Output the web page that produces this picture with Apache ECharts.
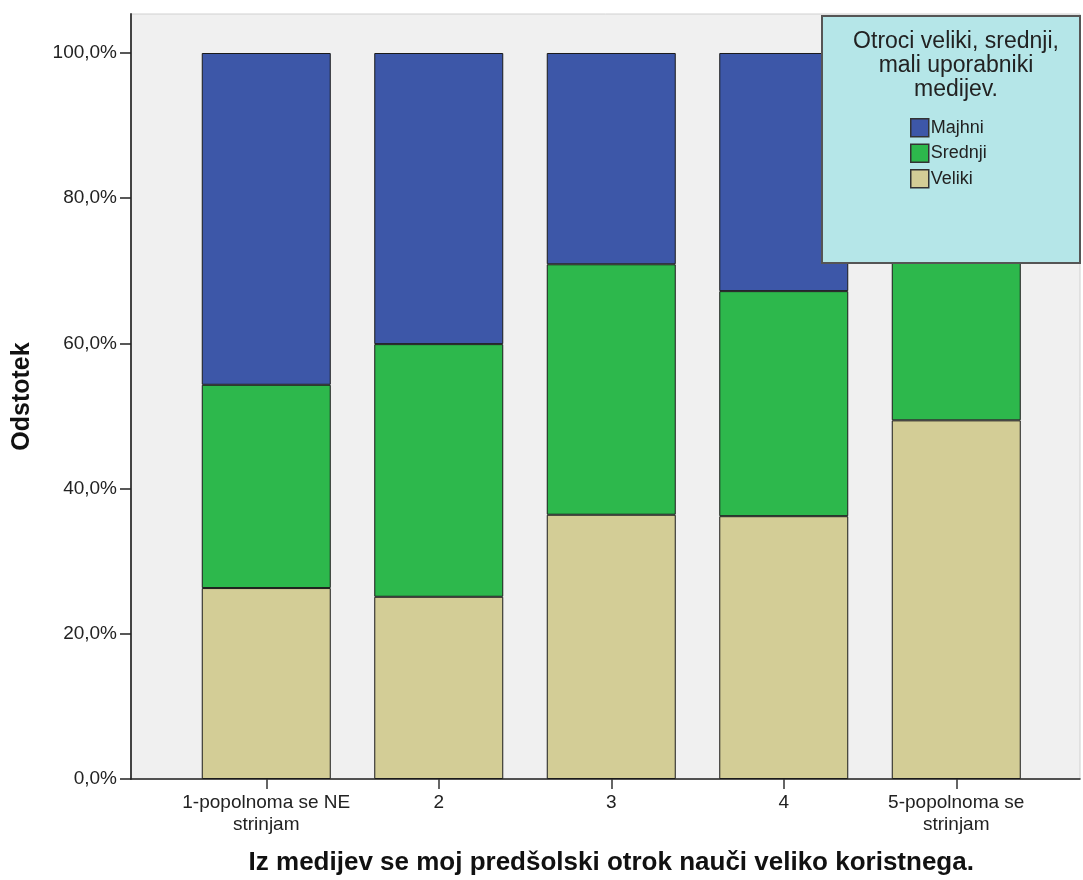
<!DOCTYPE html>
<html>
<head>
<meta charset="utf-8">
<script src="https://cdn.jsdelivr.net/npm/echarts@6/dist/echarts.min.js"></script>
<style>html,body{margin:0;padding:0;background:#fff;}#c{width:1083px;height:880px;}</style>
</head>
<body>
<div id="c"></div>
<script>
const categories = ['1-popolnoma se NE\nstrinjam', '2', '3', '4', '5-popolnoma se\nstrinjam'];
const veliki  = [26.3, 25.1, 36.4, 36.2, 49.4];
const srednji = [28.0, 34.8, 34.5, 31.0, 26.6];
const majhni  = [45.7, 40.1, 29.1, 32.8, 24.0];
const yTicks = [0, 20, 40, 60, 80, 100];
const legendTitle = 'Otroci veliki, srednji,\nmali uporabniki\nmedijev.';

const FONT = "'Liberation Sans', Arial, sans-serif";
const chart = echarts.init(document.getElementById('c'), null, {renderer: 'canvas'});
const fmt = v => v.toFixed(1).replace('.', ',') + '%';
const barStyle = c => ({color: c, borderColor: '#1a1a1a', borderWidth: 1});
const yMin = yTicks[0], yMax = yTicks[yTicks.length - 1];

chart.setOption({
  animation: false,
  textStyle: {fontFamily: FONT},
  grid: [
    {left: 131, right: 3, top: 14, bottom: 101, show: true, backgroundColor: '#f0f0f0', borderColor: '#d0d0d0', borderWidth: 1, outerBoundsMode: 'none', containLabel: false},
    {left: 131, right: 3, top: 53, bottom: 101, outerBoundsMode: 'none', containLabel: false},
    {left: 180, right: 40.5, top: 53, bottom: 101, outerBoundsMode: 'none', containLabel: false}
  ],
  xAxis: [
    {gridIndex: 0, type: 'value', min: 0, max: 1, axisLine: {show: true, lineStyle: {color: '#222', width: 1.5}},
     axisTick: {show: false}, axisLabel: {show: false}, splitLine: {show: false}},
    {gridIndex: 1, type: 'value', min: 0, max: 1, show: false},
    {gridIndex: 2, type: 'category', data: categories, axisLine: {show: false},
     axisTick: {show: true, alignWithLabel: true, interval: 0, length: 10, lineStyle: {color: '#333', width: 1.5}},
     axisLabel: {interval: 0, fontSize: 19, lineHeight: 22, color: '#222', margin: 13, fontFamily: FONT},
     name: 'Iz medijev se moj predšolski otrok nauči veliko koristnega.', nameLocation: 'middle', nameGap: 71,
     nameTextStyle: {fontSize: 26, fontWeight: 'bold', color: '#111', fontFamily: FONT}}
  ],
  yAxis: [
    {gridIndex: 0, type: 'value', min: 0, max: 1,
     axisLine: {show: true, lineStyle: {color: '#444', width: 2}},
     axisTick: {show: false}, axisLabel: {show: false}, splitLine: {show: false},
     name: 'Odstotek', nameLocation: 'middle', nameGap: 96,
     nameTextStyle: {fontSize: 25, fontWeight: 'bold', color: '#111', fontFamily: FONT}},
    {gridIndex: 1, type: 'value', min: yMin, max: yMax, interval: 20,
     axisLine: {show: false},
     axisTick: {show: true, length: 11, lineStyle: {color: '#222', width: 1.5}},
     axisLabel: {formatter: fmt, fontSize: 19, color: '#222', margin: 14, fontFamily: FONT},
     splitLine: {show: false}},
    {gridIndex: 2, type: 'value', min: yMin, max: yMax, show: false}
  ],
  graphic: [
    {type: 'rect', z: 20, shape: {x: 822, y: 16, width: 258, height: 247},
     style: {fill: '#b5e6e8', stroke: '#555', lineWidth: 2}}
  ],
  title: {text: legendTitle, left: 951, top: 25, textAlign: 'center', z: 22,
          textStyle: {fontSize: 23, lineHeight: 24, fontWeight: 'normal', color: '#222', fontFamily: FONT}},
  legend: {data: ['Majhni', 'Srednji', 'Veliki'], orient: 'vertical', left: 905, top: 113, z: 22,
           itemWidth: 18, itemHeight: 18, itemGap: 6, icon: 'rect',
           itemStyle: {borderColor: '#333', borderWidth: 1.5},
           textStyle: {fontSize: 18, color: '#222', padding: [0, 0, 0, -3], fontFamily: FONT}},
  series: [
    {name: 'Veliki', type: 'bar', stack: 's', xAxisIndex: 2, yAxisIndex: 2, barWidth: 129, data: veliki, itemStyle: barStyle('#d3cd96')},
    {name: 'Srednji', type: 'bar', stack: 's', xAxisIndex: 2, yAxisIndex: 2, barWidth: 129, data: srednji, itemStyle: barStyle('#2db84c')},
    {name: 'Majhni', type: 'bar', stack: 's', xAxisIndex: 2, yAxisIndex: 2, barWidth: 129, data: majhni, itemStyle: barStyle('#3d57a8')}
  ]
});
</script>
</body>
</html>
